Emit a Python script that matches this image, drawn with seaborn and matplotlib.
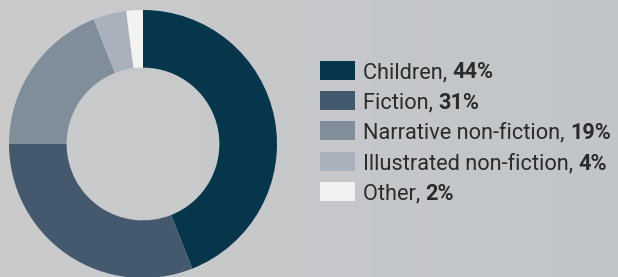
import matplotlib
matplotlib.use("Agg")
import matplotlib.pyplot as plt
import seaborn as sns
import numpy as np
from matplotlib.patches import Rectangle

categories = ["Children", "Fiction", "Narrative non-fiction", "Illustrated non-fiction", "Other"]
shares = [44, 31, 19, 4, 2]
colors = ["#05364c", "#44596e", "#808e9c", "#a9b1bc", "#f2f3f1"]

sns.set_theme(style="white")
plt.rcParams['font.family'] = ['Roboto', 'DejaVu Sans']

W, H = 618, 277
fig = plt.figure(figsize=(W / 100, H / 100), dpi=100)

# background gradient
bg = fig.add_axes([0, 0, 1, 1], zorder=-10)
grad = np.linspace(0, 1, 256)[None, :]
c0 = np.array([0xcb, 0xcb, 0xcc]) / 255
c1 = np.array([0xc1, 0xc5, 0xc9]) / 255
img = c0[None, None, :] * (1 - grad[..., None]) + c1[None, None, :] * grad[..., None]
bg.imshow(img, aspect="auto", extent=[0, 1, 0, 1])
bg.set_axis_off()

# donut
cx, cy, r = 143, 277 - 144, 134
ax = fig.add_axes([(cx - r) / W, (cy - r) / H, 2 * r / W, 2 * r / H])
ax.pie(shares, colors=colors, startangle=90, counterclock=False, radius=1,
       wedgeprops=dict(width=0.43, linewidth=0))
ax.set_xlim(-1, 1)
ax.set_ylim(-1, 1)
ax.set_axis_off()
ax.patch.set_alpha(0)

# legend
renderer = fig.canvas.get_renderer()
fs = 15.7
y0 = 70
dy = 30.4
for i, (cat, val, col) in enumerate(zip(categories, shares, colors)):
    yc = y0 + i * dy
    fig.patches.append(Rectangle(((320) / W, (H - yc - 9.5) / H), 35 / W, 19 / H,
                                 transform=fig.transFigure, color=col, lw=0))
    t = fig.text(363 / W, (H - yc) / H, f"{cat}, ", fontsize=fs, color="#2b2b2b",
                 va="center_baseline", ha="left")
    bb = t.get_window_extent(renderer)
    fig.text(bb.x1 / W, (H - yc) / H, f"{val}%", fontsize=fs, color="#2b2b2b",
             fontweight="bold", va="center_baseline", ha="left")

fig.savefig("out.png", dpi=100)
